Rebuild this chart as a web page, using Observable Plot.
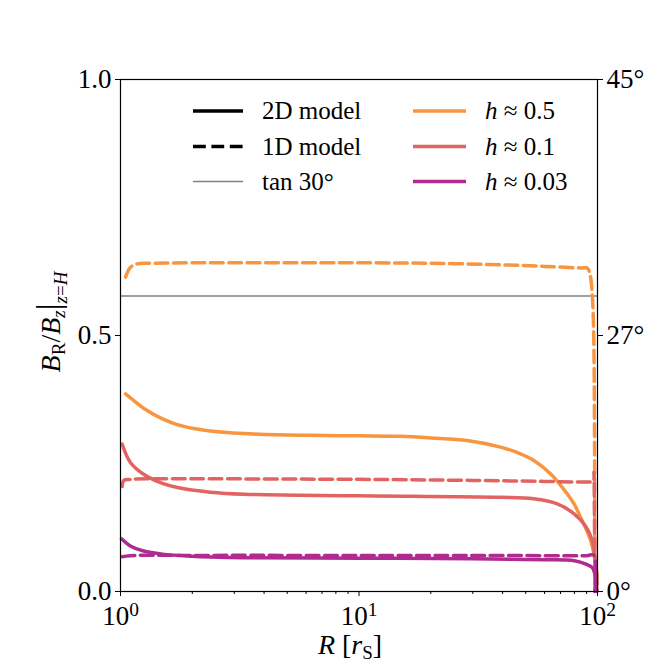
<!DOCTYPE html>
<html><head><meta charset="utf-8">
<script src="https://cdn.jsdelivr.net/npm/d3@7"></script>
<script src="https://cdn.jsdelivr.net/npm/@observablehq/plot@0.6"></script>
<style>body{margin:0;background:#fff}</style>
</head><body><div id="chart"></div>
<script>
// ---- data ----
const R_2D_h05 = [1.05, 1.15, 1.25, 1.5, 1.73, 2.0, 2.38, 3.29, 4.5, 6.26, 10, 15, 20, 28.4, 39.2, 47, 54.1, 63.5, 74.6, 80, 84.9, 90, 93.5, 96, 98.1, 99.7];
const B_2D_h05 = [0.386, 0.371, 0.358, 0.337, 0.326, 0.319, 0.3135, 0.3085, 0.306, 0.305, 0.304, 0.303, 0.300, 0.295, 0.282, 0.27, 0.256, 0.23, 0.191, 0.17, 0.145, 0.12, 0.1, 0.08, 0.055, 0.03];
const R_1D_h05 = [1.05, 1.1, 1.175, 1.3, 2, 10, 20, 40, 60, 85, 90.5, 93, 95, 96.5, 97.4];
const B_1D_h05 = [0.614, 0.633, 0.640, 0.641, 0.642, 0.642, 0.641, 0.638, 0.635, 0.632, 0.632, 0.62, 0.582, 0.49, 0.0];

const R_2D_h01 = [1.016, 1.1, 1.25, 1.5, 1.73, 2.38, 3.29, 10, 39, 54, 67.8, 79.6, 89.3, 95, 97.5, 99, 99.7];
const B_2D_h01 = [0.288, 0.252, 0.229, 0.211, 0.203, 0.194, 0.19, 0.187, 0.184, 0.181, 0.171, 0.152, 0.127, 0.10, 0.065, 0.035, 0.015];
const R_1D_h01 = [1.016, 1.033, 1.1, 2, 10, 30, 60, 90, 96, 96.6, 97.2, 98];
const B_1D_h01 = [0.205, 0.217, 0.219, 0.22, 0.219, 0.217, 0.215, 0.214, 0.215, 0.233, 0.12, 0.0];

const R_2D_h003 = [1.01, 1.1, 1.25, 1.5, 2.0, 2.4, 3.3, 10, 30, 60, 80, 90, 95, 97.4, 98.5, 99.5];
const B_2D_h003 = [0.103, 0.089, 0.079, 0.073, 0.069, 0.0675, 0.066, 0.065, 0.064, 0.062, 0.060, 0.053, 0.047, 0.035, 0.02, 0.0];
const R_1D_h003 = [1.016, 1.1, 2, 10, 30, 60, 90, 96.5, 97.5];
const B_1D_h003 = [0.068, 0.070, 0.0705, 0.0705, 0.0705, 0.070, 0.070, 0.071, 0.0];

const tan30 = Math.tan(Math.PI / 6);
const xMajor = [1, 10, 100];
const xMinor = [2, 3, 4, 5, 6, 7, 8, 9, 20, 30, 40, 50, 60, 70, 80, 90];
const yTicks = [0, 0.5, 1.0];
const yTickLabels = ["0.0", "0.5", "1.0"];
const rightTickLabels = ["0°", "27°", "45°"];
const hLabels = ["0.5", "0.1", "0.03"];
const colors = ["#f89540", "#e16462", "#b12a90"];
const modelLabels = ["2D model", "1D model", "tan 30°"];

// ---- build table ----
const series = [
  {R: R_2D_h05, B: B_2D_h05, c: 0, dash: false},
  {R: R_1D_h05, B: B_1D_h05, c: 0, dash: true},
  {R: R_2D_h01, B: B_2D_h01, c: 1, dash: false},
  {R: R_1D_h01, B: B_1D_h01, c: 1, dash: true},
  {R: R_2D_h003, B: B_2D_h003, c: 2, dash: false},
  {R: R_1D_h003, B: B_1D_h003, c: 2, dash: true},
];
const DASH = "12.8,5.6";
const lineMarks = series.map(s => Plot.line(s.R.map((r, i) => ({R: r, B: s.B[i]})), {
  x: "R", y: "B", stroke: colors[s.c], strokeWidth: 3.5,
  strokeDasharray: s.dash ? DASH : null, curve: "catmull-rom"
}));

const FONT = "'Liberation Serif', 'DejaVu Serif', serif";
const plot = Plot.plot({
  width: 664, height: 664,
  marginLeft: 120, marginRight: 67, marginTop: 79, marginBottom: 73,
  style: {fontFamily: FONT, fontSize: "27px", color: "black", background: "white"},
  x: {type: "log", domain: [1, 100]},
  y: {domain: [0, 1]},
  marks: [
    Plot.ruleY([tan30], {stroke: "#808080", strokeWidth: 1.5}),
    ...lineMarks,
    Plot.frame({stroke: "black", strokeWidth: 1.2}),
    Plot.axisX({ticks: xMajor, tickSize: 5, tickPadding: 9, tickFormat: d => "10^" + Math.round(Math.log10(d)), label: null}),
    Plot.axisX({ticks: xMinor, tickSize: 3, tickFormat: () => "", label: null}),
    Plot.axisY({ticks: yTicks, tickSize: 5, tickPadding: 4, tickFormat: d => yTickLabels[yTicks.indexOf(d)], label: null}),
    Plot.axisY({anchor: "right", ticks: yTicks, tickSize: 5, tickPadding: 4, tickFormat: d => rightTickLabels[yTicks.indexOf(d)], label: null})
  ]
});
document.getElementById("chart").appendChild(plot);

const svg = d3.select(plot);
// superscripts on x tick labels
svg.selectAll('g[aria-label="x-axis tick label"] text').each(function () {
  const t = this.textContent;
  if (!t.includes("^")) return;
  const [b, e] = t.split("^");
  this.textContent = b;
  d3.select(this).append("tspan").attr("dy", "-0.45em").attr("font-size", "0.72em").text(e);
});

// axis labels
const xl = svg.append("text").attr("x", 350).attr("y", 654).attr("text-anchor", "middle")
  .attr("font-family", FONT).attr("font-size", 28).attr("fill", "black");
xl.append("tspan").attr("font-style", "italic").text("R");
xl.append("tspan").text(" [");
xl.append("tspan").attr("font-style", "italic").text("r");
xl.append("tspan").attr("font-size", 19).attr("dy", 5).text("S");
xl.append("tspan").attr("dy", -5).text("]");

const yl = svg.append("text").attr("transform", "translate(60,322) rotate(-90)").attr("text-anchor", "middle")
  .attr("font-family", FONT).attr("font-size", 28).attr("fill", "black");
yl.append("tspan").attr("font-style", "italic").text("B");
yl.append("tspan").attr("font-size", 19).attr("dy", 5).text("R");
yl.append("tspan").attr("dy", -5).text("/");
yl.append("tspan").attr("font-style", "italic").text("B");
yl.append("tspan").attr("font-size", 19).attr("font-style", "italic").attr("dy", 5).text("z");
yl.append("tspan").attr("dy", -5).attr("font-size", 34).text("|");
yl.append("tspan").attr("font-size", 19).attr("font-style", "italic").attr("dy", 7).text("z");
yl.append("tspan").attr("font-size", 19).text("=");
yl.append("tspan").attr("font-size", 19).attr("font-style", "italic").text("H");

// legend
const lg = svg.append("g").attr("font-family", FONT).attr("font-size", 25).attr("fill", "black")
  .attr("text-anchor", "start");
const rowsY = [111, 146.5, 181.5];
const leftStyles = [
  {stroke: "black", w: 3.5, dash: null},
  {stroke: "black", w: 3.5, dash: DASH},
  {stroke: "#808080", w: 1.5, dash: null}
];
rowsY.forEach((y, i) => {
  lg.append("line").attr("x1", 193).attr("x2", 243).attr("y1", y).attr("y2", y)
    .attr("stroke", leftStyles[i].stroke).attr("stroke-width", leftStyles[i].w)
    .attr("stroke-dasharray", leftStyles[i].dash);
  lg.append("text").attr("x", 262).attr("y", y + 8).text(modelLabels[i]);
  lg.append("line").attr("x1", 413).attr("x2", 466).attr("y1", y).attr("y2", y)
    .attr("stroke", colors[i]).attr("stroke-width", 3.5);
  const h = lg.append("text").attr("x", 485).attr("y", y + 8);
  h.append("tspan").attr("font-style", "italic").text("h");
  h.append("tspan").text(" ≈ " + hLabels[i]);
});
</script>
</body></html>
